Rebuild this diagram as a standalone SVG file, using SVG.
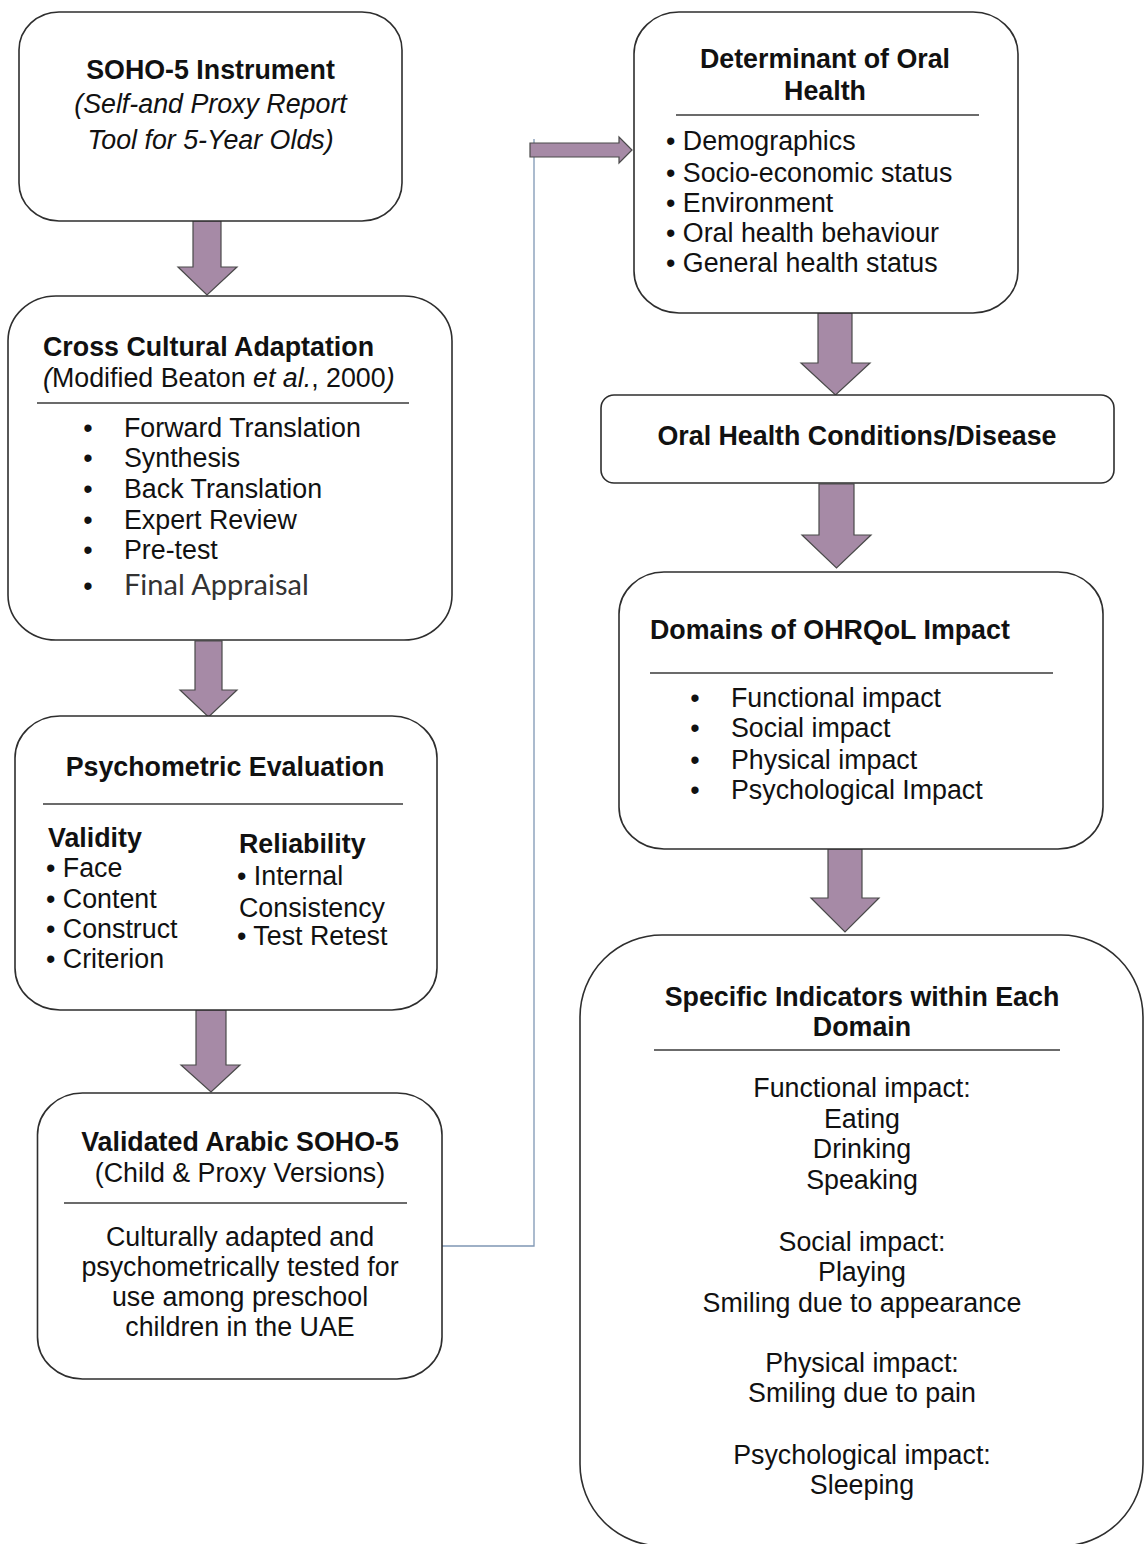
<svg xmlns="http://www.w3.org/2000/svg" width="1144" height="1544" viewBox="0 0 1144 1544">
<style>
.box{fill:#ffffff;stroke:#2e2e2e;stroke-width:1.6}
.sep{stroke:#3a3a3a;stroke-width:1.5}
.arrow{fill:#a68aa6;stroke:#4a4a4a;stroke-width:1.2;stroke-linejoin:miter}
.link{fill:none;stroke:#7f97b4;stroke-width:1.3}
text{font-family:"Liberation Sans",Arial,Helvetica,sans-serif;font-size:26.8px;fill:#111}
.b{font-weight:bold}
.i{font-style:italic}
.c{text-anchor:middle}
.cal{font-family:Lato,"Open Sans",sans-serif;font-size:29px;fill:#333}
</style>
<rect width="1144" height="1544" fill="#ffffff"/>

<g id="connectors">
  <path class="arrow" d="M193,221 H221 V267 H237 L207,295 L178,267 H193 Z"/>
  <path class="arrow" d="M195,641 H222 V690 H237 L208.5,717 L180,690 H195 Z"/>
  <path class="arrow" d="M196,1010 H226 V1065 H240 L211,1092 L181,1065 H196 Z"/>
  <path class="arrow" d="M818,313 H852 V363 H870 L835.5,395 L801,363 H818 Z"/>
  <path class="arrow" d="M819,484 H854 V535 H871 L836.5,568 L802,535 H819 Z"/>
  <path class="arrow" d="M828,849 H862 V898 H879 L845,932 L811,898 H828 Z"/>
  <polyline class="link" points="442,1246 534,1246 534,139"/>
  <path class="arrow" d="M530,143 H619 V137 L632,150 L619,163 V157 H530 Z"/>
</g>

<g id="node-soho5">
  <rect class="box" x="19" y="12" width="383" height="209" rx="40" ry="38"/>
  <text class="b c" x="210.5" y="79">SOHO-5 Instrument</text>
  <text class="i c" x="210.5" y="113">(Self-and Proxy Report</text>
  <text class="i c" x="210.5" y="149">Tool for 5-Year Olds)</text>
</g>

<g id="node-cross-cultural">
  <rect class="box" x="8" y="296" width="444" height="344" rx="48" ry="45"/>
  <text class="b" x="43" y="356">Cross Cultural Adaptation</text>
  <text x="43" y="387"><tspan class="i">(</tspan>Modified Beaton <tspan class="i">et al.</tspan>, 2000<tspan class="i">)</tspan></text>
  <line class="sep" x1="37" y1="403" x2="409" y2="403"/>
  <text class="c" x="88" y="437">•</text>
  <text x="124" y="437">Forward Translation</text>
  <text class="c" x="88" y="467">•</text>
  <text x="124" y="467">Synthesis</text>
  <text class="c" x="88" y="498">•</text>
  <text x="124" y="498">Back Translation</text>
  <text class="c" x="88" y="529">•</text>
  <text x="124" y="529">Expert Review</text>
  <text class="c" x="88" y="559">•</text>
  <text x="124" y="559">Pre-test</text>
  <text class="c" x="88" y="595">•</text>
  <text class="cal" x="124" y="595">Final Appraisal</text>
</g>

<g id="node-psychometric">
  <rect class="box" x="15" y="716" width="422" height="294" rx="45" ry="42"/>
  <text class="b c" x="225" y="776">Psychometric Evaluation</text>
  <line class="sep" x1="43" y1="804" x2="403" y2="804"/>
  <text class="b" x="48" y="847">Validity</text>
  <text x="46" y="877">• Face</text>
  <text x="46" y="908">• Content</text>
  <text x="46" y="938">• Construct</text>
  <text x="46" y="968">• Criterion</text>
  <text class="b" x="239" y="853">Reliability</text>
  <text x="237" y="885">• Internal</text>
  <text x="239" y="917">Consistency</text>
  <text x="237" y="945">• Test Retest</text>
</g>

<g id="node-validated">
  <rect class="box" x="37.5" y="1093" width="404.5" height="286" rx="45" ry="42"/>
  <text class="b c" x="240" y="1151">Validated Arabic SOHO-5</text>
  <text class="c" x="240" y="1182">(Child &amp; Proxy Versions)</text>
  <line class="sep" x1="64" y1="1203" x2="407" y2="1203"/>
  <text class="c" x="240" y="1246">Culturally adapted and</text>
  <text class="c" x="240" y="1276">psychometrically tested for</text>
  <text class="c" x="240" y="1306">use among preschool</text>
  <text class="c" x="240" y="1336">children in the UAE</text>
</g>

<g id="node-determinant">
  <rect class="box" x="634" y="12" width="384" height="301" rx="45" ry="42"/>
  <text class="b c" x="825" y="68">Determinant of Oral</text>
  <text class="b c" x="825" y="100">Health</text>
  <line class="sep" x1="676" y1="115" x2="979" y2="115"/>
  <text x="666" y="150">• Demographics</text>
  <text x="666" y="182">• Socio-economic status</text>
  <text x="666" y="212">• Environment</text>
  <text x="666" y="242">• Oral health behaviour</text>
  <text x="666" y="272">• General health status</text>
</g>

<g id="node-conditions">
  <rect class="box" x="601" y="395" width="513" height="88" rx="13" ry="13"/>
  <text class="b c" x="857" y="445">Oral Health Conditions/Disease</text>
</g>

<g id="node-domains">
  <rect class="box" x="619" y="572" width="484" height="277" rx="45" ry="42"/>
  <text class="b" x="650" y="639">Domains of OHRQoL Impact</text>
  <line class="sep" x1="650" y1="673" x2="1053" y2="673"/>
  <text class="c" x="695" y="707">•</text>
  <text x="731" y="707">Functional impact</text>
  <text class="c" x="695" y="737">•</text>
  <text x="731" y="737">Social impact</text>
  <text class="c" x="695" y="769">•</text>
  <text x="731" y="769">Physical impact</text>
  <text class="c" x="695" y="799">•</text>
  <text x="731" y="799">Psychological Impact</text>
</g>

<g id="node-indicators">
  <rect class="box" x="580" y="935" width="563" height="611" rx="82" ry="82"/>
  <text class="b c" x="862" y="1006">Specific Indicators within Each</text>
  <text class="b c" x="862" y="1036">Domain</text>
  <line class="sep" x1="654" y1="1050" x2="1060" y2="1050"/>
  <text class="c" x="862" y="1097">Functional impact:</text>
  <text class="c" x="862" y="1128">Eating</text>
  <text class="c" x="862" y="1158">Drinking</text>
  <text class="c" x="862" y="1189">Speaking</text>
  <text class="c" x="862" y="1251">Social impact:</text>
  <text class="c" x="862" y="1281">Playing</text>
  <text class="c" x="862" y="1312">Smiling due to appearance</text>
  <text class="c" x="862" y="1372">Physical impact:</text>
  <text class="c" x="862" y="1402">Smiling due to pain</text>
  <text class="c" x="862" y="1464">Psychological impact:</text>
  <text class="c" x="862" y="1494">Sleeping</text>
</g>
</svg>
